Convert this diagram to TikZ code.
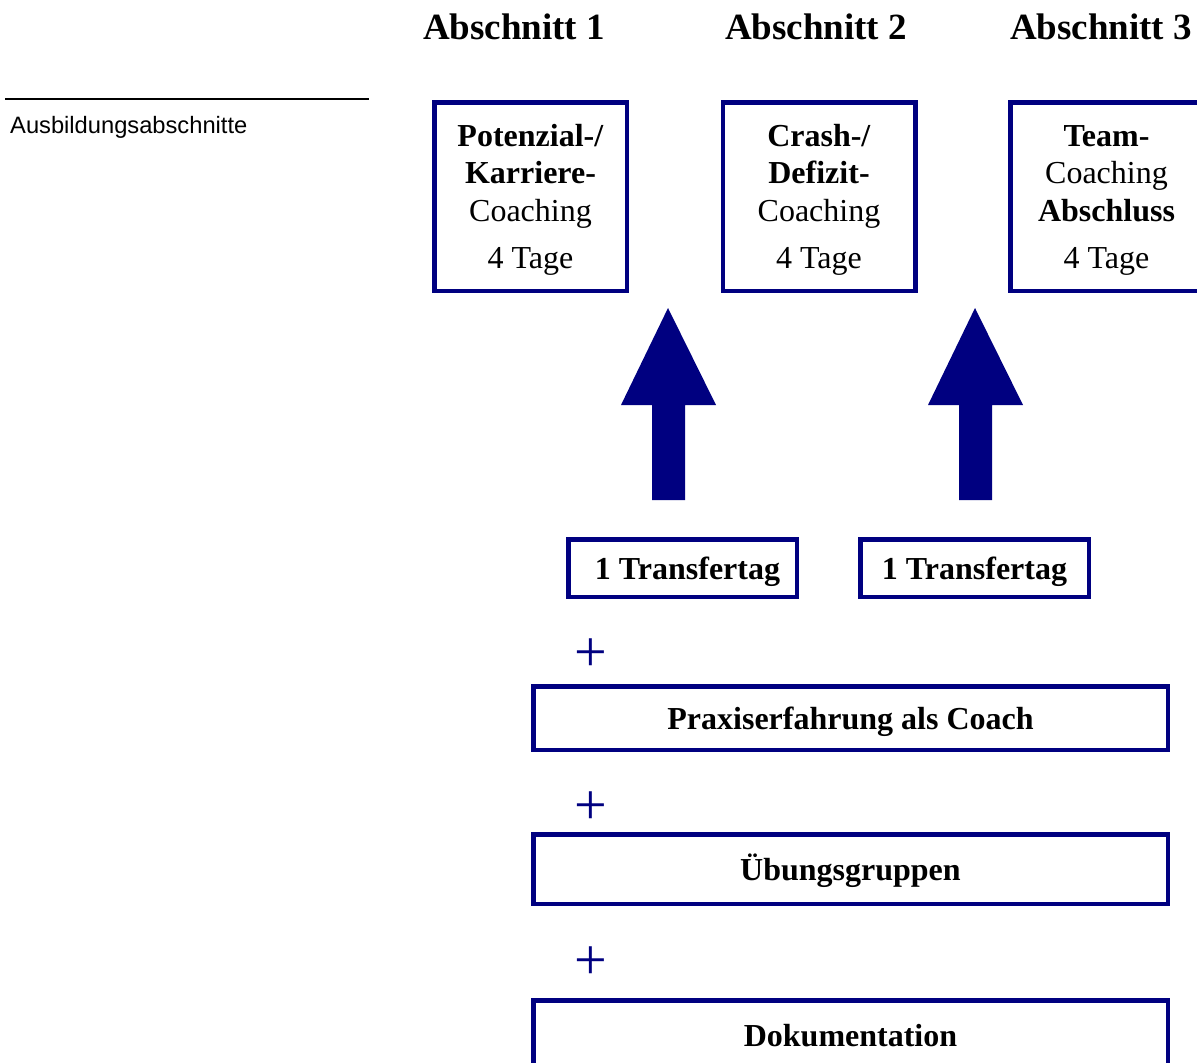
\documentclass[tikz,border=0pt]{standalone}
\usepackage{fontspec}
\setmainfont{Liberation Serif}
\setsansfont{Liberation Sans}
\usetikzlibrary{positioning}
\definecolor{navy}{RGB}{0,0,128}

\newcommand{\topstrut}{\rule{0pt}{29pt}}

\tikzset{
  framebox/.style={draw=navy, line width=4.5pt, inner sep=0pt, align=center,
    font=\fontsize{32}{37.5}\selectfont},
  lineframe/.style={framebox, text height=30pt, text depth=7pt},
  titletext/.style={inner sep=0pt, anchor=base, font=\fontsize{37}{40}\selectfont\bfseries},
  plussign/.style={inner sep=0pt, text=navy, font=\fontsize{58}{60}\selectfont},
}

\begin{document}
\begin{tikzpicture}[line join=miter,x=1pt,y=-1pt]
\useasboundingbox (0,0) rectangle (1197,1063);
\clip (0,0) rectangle (1197,1063);
% Kopfzeile
\node[titletext] (title1) at (514,39) {Abschnitt 1};
\node[titletext] (title2) at (816,39) {Abschnitt 2};
\node[titletext] (title3) at (1101,39) {Abschnitt 3};
\draw [line width=2pt] (5,99) -- (369,99);
\node[inner sep=0pt, anchor=base west, font=\sffamily\fontsize{23.7}{26}\selectfont] (note) at (10,133) {Ausbildungsabschnitte};
% Abschnitte
\node[framebox, minimum width=192.5, minimum height=188.5] (coach1) at (530.5,196.5)
  {\topstrut\textbf{Potenzial-/}\\\textbf{Karriere-}\\Coaching\\[10pt]4 Tage};
\node[framebox, minimum width=192.5, minimum height=188.5] (coach2) at (819,196.5)
  {\topstrut\textbf{Crash-/}\\\textbf{Defizit-}\\Coaching\\[10pt]4 Tage};
\node[framebox, minimum width=192.5, minimum height=188.5] (coach3) at (1106.5,196.5)
  {\topstrut\textbf{Team-}\\Coaching\\\textbf{Abschluss}\\[10pt]4 Tage};
% Pfeile
\foreach \ax in {668,975}
  \fill [navy] (\ax-16,500) -- (\ax-16,405) -- (\ax-47,405) -- (\ax,308)
    -- (\ax+48,405) -- (\ax+17,405) -- (\ax+17,500) -- cycle;
% Transfer
\node[lineframe, minimum width=228.5, minimum height=57.5] (transfer1) at (682.5,568) {\hspace{10pt}\textbf{1 Transfertag}};
\node[lineframe, minimum width=228.5, minimum height=57.5] (transfer2) at (974.5,568) {\textbf{1 Transfertag}};
\node[plussign] (plus1) at (591,655) {+};
\node[lineframe, minimum width=634.5, minimum height=63.5] (praxis) at (850.5,718) {\textbf{Praxiserfahrung als Coach}};
\node[plussign] (plus2) at (591,808) {+};
\node[lineframe, minimum width=634.5, minimum height=69.5] (uebung) at (850.5,869) {\textbf{Übungsgruppen}};
\node[plussign] (plus3) at (591,963) {+};
\node[lineframe, minimum width=634.5, minimum height=69.5] (doku) at (850.5,1035) {\textbf{Dokumentation}};
\end{tikzpicture}
\end{document}
